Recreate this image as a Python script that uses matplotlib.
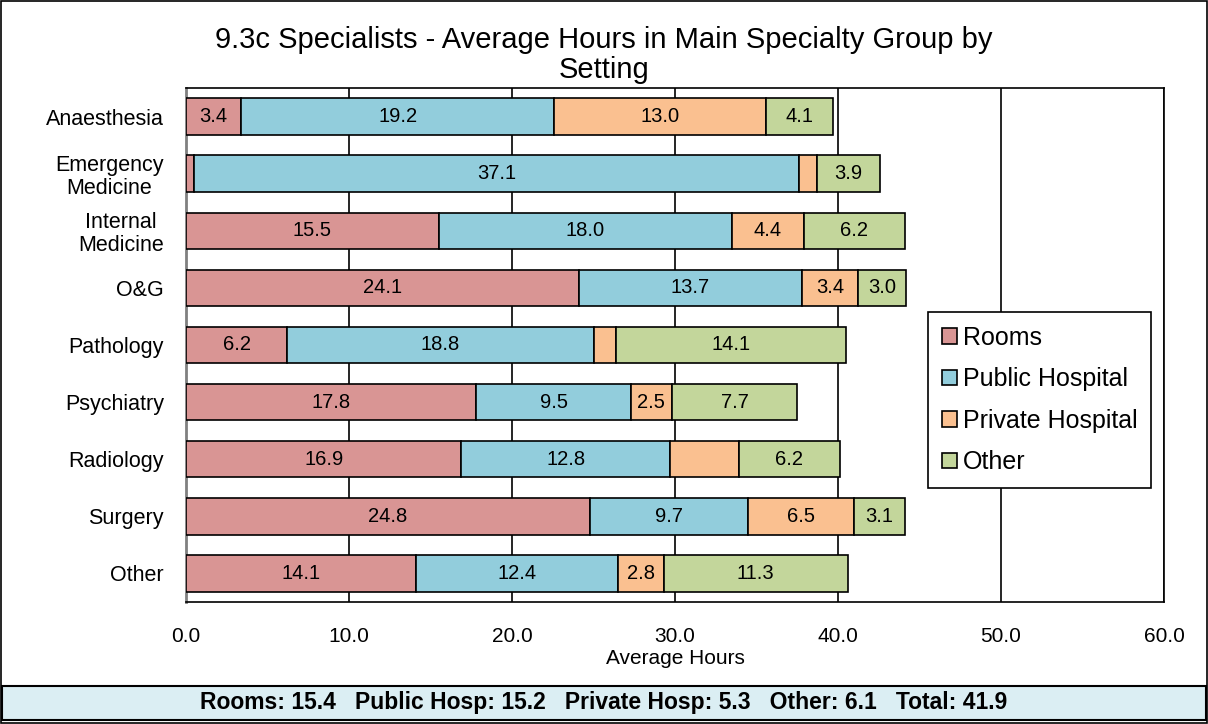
import matplotlib.pyplot as plt
from matplotlib.patches import Rectangle

specialties = ['Anaesthesia', 'Emergency\nMedicine', 'Internal\nMedicine', 'O&G', 'Pathology',
               'Psychiatry', 'Radiology', 'Surgery', 'Other']
rooms = [3.4, 0.5, 15.5, 24.1, 6.2, 17.8, 16.9, 24.8, 14.1]
public_hosp = [19.2, 37.1, 18.0, 13.7, 18.8, 9.5, 12.8, 9.7, 12.4]
private_hosp = [13.0, 1.1, 4.4, 3.4, 1.4, 2.5, 4.2, 6.5, 2.8]
other = [4.1, 3.9, 6.2, 3.0, 14.1, 7.7, 6.2, 3.1, 11.3]
series_names = ['Rooms', 'Public Hospital', 'Private Hospital', 'Other']
colors = ['#D99594', '#92CDDC', '#FAC090', '#C3D69B']
# segments left without a data label (series index, category index)
no_label = {(0, 1), (2, 1), (2, 4), (2, 6)}
summary = 'Rooms: 15.4   Public Hosp: 15.2   Private Hosp: 5.3   Other: 6.1   Total: 41.9'

plt.rcParams['font.family'] = ['Liberation Sans', 'DejaVu Sans']

fig = plt.figure(figsize=(12.08, 7.24), dpi=100)
ax = fig.add_axes([186 / 1208, 1 - 602 / 724, 978 / 1208, 514 / 724])

y = list(range(len(specialties)))
left = [0.0] * len(specialties)
for si, (vals, name, col) in enumerate(zip([rooms, public_hosp, private_hosp, other], series_names, colors)):
    bars = ax.barh(y, vals, left=left, height=0.64, color=col, edgecolor='black',
                   linewidth=1.2, label=name, zorder=3)
    for ci, (b, v) in enumerate(zip(bars, vals)):
        if (si, ci) not in no_label:
            ax.text(b.get_x() + b.get_width() / 2, b.get_y() + b.get_height() / 2,
                    f'{v:.1f}', ha='center', va='center', fontsize=14.5, zorder=4)
    left = [l + v for l, v in zip(left, vals)]

ax.set_xlim(0, 60)
ax.set_ylim(8.5, -0.5)
ax.set_yticks(y)
ax.set_yticklabels(specialties, fontsize=15.5, linespacing=1.1, multialignment='center')
ax.tick_params(axis='y', length=0, pad=16)
ax.set_xticks(range(0, 61, 10))
ax.set_xticklabels([f'{v:.1f}' for v in range(0, 61, 10)], fontsize=15)
ax.tick_params(axis='x', length=0, pad=18)
ax.xaxis.grid(True, color='black', linewidth=1.2, zorder=0)
ax.set_xlabel('Average Hours', fontsize=15, labelpad=2)
for s in ax.spines.values():
    s.set_linewidth(1.2)
ax.spines['left'].set_color('#808080')
ax.spines['left'].set_linewidth(2)

fig.text(0.5, 1 - 55 / 724, '9.3c Specialists - Average Hours in Main Specialty Group by\nSetting',
         ha='center', va='center', fontsize=21, linespacing=1.12)

leg = fig.legend(loc='upper left', bbox_to_anchor=(928 / 1208, 1 - 312 / 724), fontsize=18,
                 frameon=True, fancybox=False, framealpha=1, edgecolor='black',
                 handlelength=0.6, handleheight=0.6, handletextpad=0.25,
                 labelspacing=0.7, borderpad=0.55, borderaxespad=0)
leg.get_frame().set_linewidth(1.2)

fig.patches.append(Rectangle((0.002, 4 / 724), 0.996, 34 / 724, transform=fig.transFigure,
                             facecolor='#DBEEF3', edgecolor='black', linewidth=1.5))
fig.text(0.5, 21 / 724, summary, ha='center', va='center', fontsize=16.5, fontweight='bold')
fig.patches.append(Rectangle((0.001, 0.001), 0.998, 0.998, transform=fig.transFigure,
                             facecolor='none', edgecolor='black', linewidth=1.2))

fig.savefig('out.png', dpi=100)
